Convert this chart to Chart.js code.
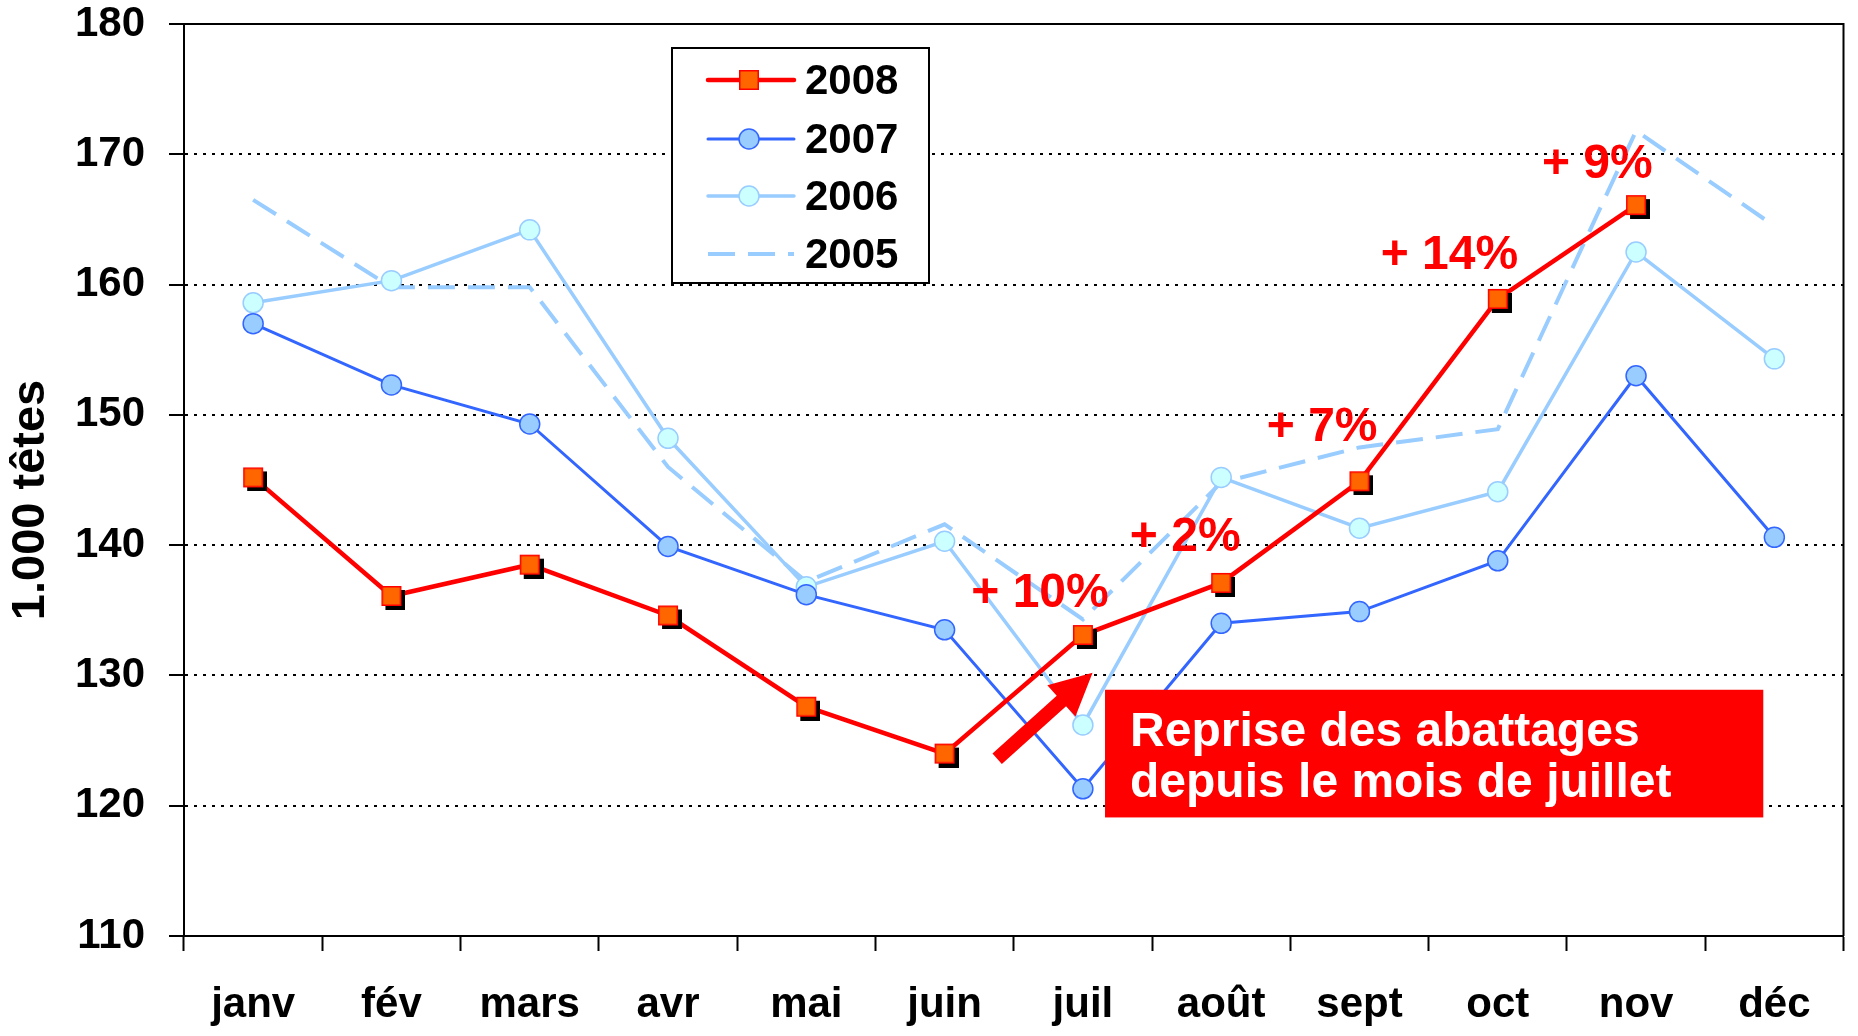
<!DOCTYPE html>
<html lang="fr">
<head>
<meta charset="UTF-8">
<title>Abattages mensuels</title>
<style>
  body { margin: 0; background: #fff; }
  #wrap { width: 1858px; height: 1036px; }
</style>
<script src="https://cdn.jsdelivr.net/npm/chart.js"></script>
</head>
<body>
<div id="wrap"><canvas id="chart" width="1858" height="1036"></canvas></div>
<script>
// values (1.000 têtes)
const months = ['janv', 'fév', 'mars', 'avr', 'mai', 'juin', 'juil', 'août', 'sept', 'oct', 'nov', 'déc'];
const v2008 = [145.2, 136.1, 138.5, 134.6, 127.6, 124.0, 133.1, 137.1, 144.9, 158.9, 166.1, null];
const v2007 = [157.0, 152.3, 149.3, 139.9, 136.2, 133.5, 121.3, 134.0, 134.9, 138.8, 153.0, 140.6];
const v2006 = [158.6, 160.3, 164.2, 148.2, 136.8, 140.3, 126.2, 145.2, 141.3, 144.1, 162.5, 154.3];
const v2005 = [166.5, 159.8, 159.8, 146.0, 137.2, 141.6, 134.3, 144.8, 147.5, 148.9, 171.8, 164.5];
const yMin = 110, yMax = 180, yStep = 10;
const gainLabels = ['+ 10%', '+ 2%', '+ 7%', '+ 14%', '+ 9%'];
const boxLines = ['Reprise des abattages', 'depuis le mois de juillet'];
const yTitle = '1.000 têtes';

// where the notes sit, in axis units (category index, value)
const notes = {
  gains: [[5.69, 136.3], [6.74, 140.6], [7.73, 149.0], [8.65, 162.2], [9.72, 169.2]],
  box: { x0: 6.16, x1: 10.92, y0: 128.9, y1: 119.1 },
  arrow: { from: [5.38, 123.6], to: [6.07, 130.2] }
};

const FONT = '"Liberation Sans", Arial, Helvetica, sans-serif';
Chart.defaults.font.family = FONT;

// square marker with a small black drop shadow, like the 2008 points
function squareMarker() {
  const c = document.createElement('canvas');
  c.width = 28; c.height = 28;
  const g = c.getContext('2d');
  g.fillStyle = '#000';
  g.fillRect(8, 8, 20, 20);
  g.fillStyle = '#FF6600';
  g.fillRect(4, 4, 20, 20);
  g.strokeStyle = '#FF0000';
  g.lineWidth = 1.5;
  g.strokeRect(4.75, 4.75, 18.5, 18.5);
  return c;
}

const decor = {
  id: 'decor',
  beforeDatasetsDraw(chart) {
    const { ctx, chartArea: a } = chart;
    ctx.save();
    ctx.strokeStyle = '#000';
    ctx.lineWidth = 2;
    ctx.beginPath();
    ctx.moveTo(a.left, a.top);
    ctx.lineTo(a.right, a.top);
    ctx.lineTo(a.right, a.bottom);
    ctx.stroke();
    ctx.restore();
  },
  afterDatasetsDraw(chart) {
    const { ctx, chartArea: a, scales: { x, y } } = chart;
    ctx.save();

    // arrow
    const p0 = [x.getPixelForValue(notes.arrow.from[0]), y.getPixelForValue(notes.arrow.from[1])];
    const p1 = [x.getPixelForValue(notes.arrow.to[0]), y.getPixelForValue(notes.arrow.to[1])];
    const dx = p1[0] - p0[0], dy = p1[1] - p0[1];
    const len = Math.hypot(dx, dy);
    const ux = dx / len, uy = dy / len, nx = -uy, ny = ux;
    const shaft = 7, head = 21, headLen = 42;
    const bx = p1[0] - ux * headLen, by = p1[1] - uy * headLen;
    ctx.fillStyle = '#FF0000';
    ctx.beginPath();
    ctx.moveTo(p0[0] + nx * shaft, p0[1] + ny * shaft);
    ctx.lineTo(bx + nx * shaft, by + ny * shaft);
    ctx.lineTo(bx + nx * head, by + ny * head);
    ctx.lineTo(p1[0], p1[1]);
    ctx.lineTo(bx - nx * head, by - ny * head);
    ctx.lineTo(bx - nx * shaft, by - ny * shaft);
    ctx.lineTo(p0[0] - nx * shaft, p0[1] - ny * shaft);
    ctx.closePath();
    ctx.fill();

    // red note box
    const bl = x.getPixelForValue(notes.box.x0), br = x.getPixelForValue(notes.box.x1);
    const bt = y.getPixelForValue(notes.box.y0), bb = y.getPixelForValue(notes.box.y1);
    ctx.fillRect(bl, bt, br - bl, bb - bt);
    ctx.fillStyle = '#fff';
    ctx.font = 'bold 48px ' + FONT;
    ctx.textAlign = 'left';
    ctx.textBaseline = 'alphabetic';
    boxLines.forEach((t, i) => ctx.fillText(t, bl + 25, bt + 56 + i * 51));

    // growth labels
    ctx.fillStyle = '#FF0000';
    ctx.textAlign = 'center';
    ctx.textBaseline = 'middle';
    gainLabels.forEach((t, i) => {
      ctx.fillText(t, x.getPixelForValue(notes.gains[i][0]), y.getPixelForValue(notes.gains[i][1]));
    });

    // legend box
    const L = 672, T = 48, W = 257, H = 235;
    ctx.fillStyle = '#fff';
    ctx.fillRect(L, T, W, H);
    ctx.strokeStyle = '#000';
    ctx.lineWidth = 2;
    ctx.strokeRect(L, T, W, H);
    const rows = [80, 139, 196, 254];
    chart.data.datasets.forEach((ds, i) => {
      const ry = rows[i];
      ctx.strokeStyle = ds.borderColor;
      ctx.lineWidth = ds.borderWidth;
      ctx.setLineDash(ds.borderDash || []);
      ctx.lineCap = ds.borderDash ? 'butt' : 'round';
      ctx.beginPath();
      ctx.moveTo(708, ry);
      ctx.lineTo(794, ry);
      ctx.stroke();
      ctx.setLineDash([]);
      if (ds.pointStyle instanceof HTMLCanvasElement) {
        ctx.fillStyle = '#FF6600';
        ctx.fillRect(739, ry - 10, 20, 20);
        ctx.strokeStyle = '#FF0000';
        ctx.lineWidth = 1.5;
        ctx.strokeRect(739.75, ry - 9.25, 18.5, 18.5);
      } else if (ds.pointRadius > 0) {
        ctx.fillStyle = ds.pointBackgroundColor;
        ctx.strokeStyle = ds.pointBorderColor;
        ctx.lineWidth = ds.pointBorderWidth;
        ctx.beginPath();
        ctx.arc(749, ry, 10, 0, Math.PI * 2);
        ctx.fill();
        ctx.stroke();
      }
      ctx.fillStyle = '#000';
      ctx.font = 'bold 42px ' + FONT;
      ctx.textAlign = 'left';
      ctx.textBaseline = 'middle';
      ctx.fillText(ds.label, 805, ry + 2);
    });

    // y axis title
    ctx.translate(31, (a.top + a.bottom) / 2 + 20);
    ctx.rotate(-Math.PI / 2);
    ctx.fillStyle = '#000';
    ctx.font = 'bold 47px ' + FONT;
    ctx.textAlign = 'center';
    ctx.textBaseline = 'middle';
    ctx.fillText(yTitle, 0, 0);
    ctx.restore();
  }
};

new Chart(document.getElementById('chart'), {
  type: 'line',
  data: {
    labels: months,
    datasets: [
      {
        label: '2008', data: v2008,
        borderColor: '#FF0000', borderWidth: 4.5,
        pointStyle: squareMarker(), pointRadius: 10
      },
      {
        label: '2007', data: v2007,
        borderColor: '#3366FF', borderWidth: 3,
        pointStyle: 'circle', pointRadius: 10,
        pointBackgroundColor: '#99CCFF', pointBorderColor: '#3366FF', pointBorderWidth: 1.5
      },
      {
        label: '2006', data: v2006,
        borderColor: '#99CCFF', borderWidth: 3.5,
        pointStyle: 'circle', pointRadius: 10,
        pointBackgroundColor: '#CCFFFF', pointBorderColor: '#99CCFF', pointBorderWidth: 1.5
      },
      {
        label: '2005', data: v2005,
        borderColor: '#99CCFF', borderWidth: 4, borderDash: [27, 13],
        pointRadius: 0
      }
    ]
  },
  options: {
    responsive: false,
    animation: false,
    layout: { padding: { top: 24, right: 9, left: 0, bottom: 0 } },
    plugins: {
      legend: { display: false },
      tooltip: { enabled: false }
    },
    scales: {
      x: {
        offset: true,
        grid: {
          offset: true, drawOnChartArea: false, drawTicks: true,
          tickLength: 15, tickColor: '#000', tickWidth: 2
        },
        border: { color: '#000', width: 2 },
        ticks: {
          color: '#000', font: { size: 42, weight: 'bold' },
          padding: 29, maxRotation: 0, autoSkip: false
        },
        afterFit(s) {
          s.height = 100;
          s.paddingLeft = 0;
          s.paddingRight = 0;
        }
      },
      y: {
        min: yMin, max: yMax,
        ticks: {
          stepSize: yStep, color: '#000',
          font: { size: 42, weight: 'bold', lineHeight: 1 }, padding: 24
        },
        grid: { color: '#000', lineWidth: 2, tickLength: 15, tickColor: '#000', tickWidth: 2 },
        border: { color: '#000', width: 2, dash: [3, 6] },
        afterFit(s) {
          s.width = 184;
          s.paddingTop = 0;
          s.paddingBottom = 0;
        }
      }
    }
  },
  plugins: [decor]
});
</script>
</body>
</html>
